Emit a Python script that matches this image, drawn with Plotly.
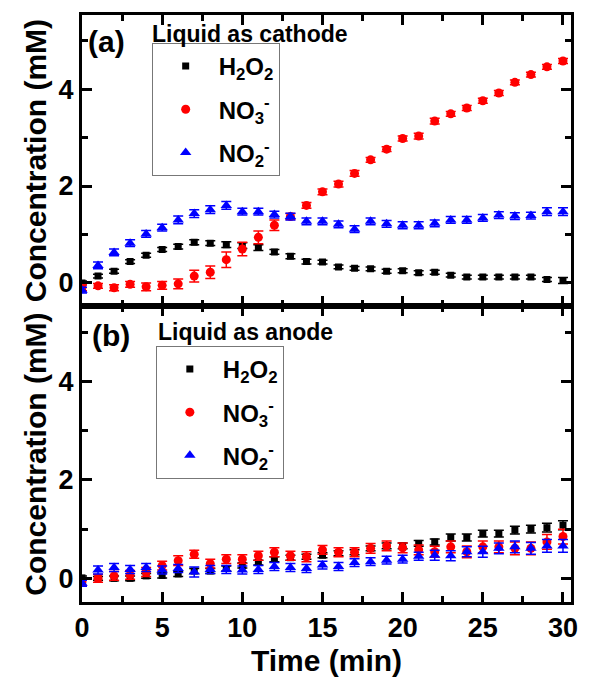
import plotly.graph_objects as go

# Time axis (min)
time_min = list(range(31))

# (a) liquid as cathode -- concentrations (mM) and error bars
cath_h2o2 = [0.00, 0.14, 0.24, 0.44, 0.57, 0.69, 0.75, 0.84, 0.82, 0.79, 0.77,
             0.73, 0.64, 0.55, 0.44, 0.43, 0.33, 0.30, 0.29, 0.24, 0.25, 0.21,
             0.22, 0.16, 0.12, 0.12, 0.12, 0.12, 0.12, 0.07, 0.05]
cath_h2o2_err = [0.04, 0.04, 0.04, 0.04, 0.04, 0.04, 0.05, 0.05, 0.05, 0.06, 0.06,
                 0.06, 0.05, 0.05, 0.05, 0.04, 0.04, 0.04, 0.04, 0.04, 0.04, 0.04,
                 0.04, 0.04, 0.04, 0.04, 0.04, 0.04, 0.04, 0.04, 0.06]
cath_no3 = [-0.10, -0.06, -0.10, -0.03, -0.08, -0.05, -0.02, 0.14, 0.22, 0.48, 0.70,
            0.94, 1.19, 1.37, 1.60, 1.88, 2.04, 2.26, 2.54, 2.76, 2.98, 3.03,
            3.34, 3.49, 3.61, 3.76, 3.92, 4.14, 4.30, 4.46, 4.58]
cath_no3_err = [0.06, 0.05, 0.06, 0.06, 0.08, 0.08, 0.10, 0.12, 0.13, 0.16, 0.14,
                0.13, 0.11, 0.06, 0.06, 0.06, 0.06, 0.06, 0.05, 0.05, 0.05, 0.06,
                0.06, 0.05, 0.05, 0.05, 0.05, 0.05, 0.05, 0.05, 0.05]
cath_no2 = [-0.15, 0.36, 0.63, 0.82, 1.01, 1.14, 1.30, 1.43, 1.51, 1.60, 1.47,
            1.47, 1.41, 1.37, 1.27, 1.27, 1.21, 1.11, 1.27, 1.22, 1.19, 1.19,
            1.23, 1.30, 1.30, 1.34, 1.40, 1.38, 1.39, 1.47, 1.47]
cath_no2_err = [0.06, 0.07, 0.07, 0.07, 0.07, 0.07, 0.08, 0.08, 0.08, 0.08, 0.07,
                0.07, 0.07, 0.07, 0.07, 0.07, 0.07, 0.07, 0.07, 0.07, 0.07, 0.07,
                0.07, 0.07, 0.07, 0.07, 0.07, 0.07, 0.07, 0.08, 0.08]

# (b) liquid as anode -- concentrations (mM) and error bars
anod_h2o2 = [0.01, 0.00, 0.00, 0.00, 0.05, 0.06, 0.09, 0.15, 0.15, 0.20, 0.26,
             0.32, 0.39, 0.42, 0.44, 0.47, 0.51, 0.53, 0.61, 0.66, 0.66, 0.71,
             0.74, 0.83, 0.83, 0.91, 0.91, 0.98, 1.00, 1.03, 1.08]
anod_h2o2_err = [0.04, 0.04, 0.05, 0.05, 0.05, 0.05, 0.05, 0.05, 0.05, 0.05, 0.05,
                 0.05, 0.05, 0.05, 0.05, 0.05, 0.05, 0.05, 0.05, 0.06, 0.06, 0.06,
                 0.06, 0.07, 0.07, 0.07, 0.07, 0.08, 0.08, 0.09, 0.09]
anod_no3 = [-0.07, 0.00, 0.05, 0.07, 0.13, 0.26, 0.36, 0.49, 0.30, 0.39, 0.39,
            0.46, 0.53, 0.46, 0.44, 0.58, 0.53, 0.53, 0.61, 0.66, 0.62, 0.58,
            0.54, 0.64, 0.54, 0.64, 0.64, 0.61, 0.61, 0.74, 0.85]
anod_no3_err = [0.08, 0.08, 0.09, 0.09, 0.09, 0.09, 0.10, 0.08, 0.09, 0.09, 0.09,
                0.09, 0.09, 0.09, 0.10, 0.09, 0.09, 0.09, 0.10, 0.10, 0.10, 0.10,
                0.11, 0.12, 0.12, 0.12, 0.12, 0.13, 0.13, 0.15, 0.15]
anod_no2 = [-0.10, 0.17, 0.22, 0.18, 0.22, 0.17, 0.20, 0.13, 0.18, 0.18, 0.17,
            0.18, 0.24, 0.22, 0.20, 0.27, 0.24, 0.32, 0.34, 0.37, 0.39, 0.45,
            0.47, 0.46, 0.54, 0.54, 0.61, 0.64, 0.61, 0.66, 0.66]
anod_no2_err = [0.06, 0.08, 0.08, 0.08, 0.08, 0.08, 0.08, 0.10, 0.08, 0.08, 0.08,
                0.08, 0.08, 0.08, 0.08, 0.08, 0.08, 0.08, 0.08, 0.08, 0.08, 0.08,
                0.10, 0.10, 0.10, 0.11, 0.11, 0.12, 0.12, 0.13, 0.13]

species_names = ["H<sub>2</sub>O<sub>2</sub>",
                 "NO<sub>3</sub><sup>-</sup>",
                 "NO<sub>2</sub><sup>-</sup>"]
species_colors = ["#000000", "#ff0000", "#0000ff"]
species_symbols = ["square", "circle", "triangle-up"]
species_sizes = [7, 9, 10]

FONT = "Liberation Sans, Arial, sans-serif"

fig = go.Figure()

panels = [
    ("x2", "y2", "legend", [cath_h2o2, cath_no3, cath_no2],
     [cath_h2o2_err, cath_no3_err, cath_no2_err]),
    ("x", "y", "legend2", [anod_h2o2, anod_no3, anod_no2],
     [anod_h2o2_err, anod_no3_err, anod_no2_err]),
]

for xa, ya, leg, series, errs in panels:
    for i in range(3):
        fig.add_trace(go.Scatter(
            x=time_min, y=series[i], xaxis=xa, yaxis=ya,
            mode="markers", name=species_names[i],
            legend=leg, legendgroup=f"{leg}_{i}",
            marker=dict(symbol=species_symbols[i], size=species_sizes[i],
                        color=species_colors[i]),
            error_y=dict(type="data", array=errs[i], visible=True,
                         color=species_colors[i], thickness=1.5, width=5),
        ))

axis_common = dict(
    showline=True, linecolor="black", linewidth=3, mirror="ticks",
    ticks="inside", ticklen=10, tickwidth=2.5, tickcolor="black",
    showgrid=False, zeroline=False,
    tickfont=dict(family=FONT, size=27, color="black", weight="bold"),
)

x_common = dict(axis_common, range=[0, 30.5], dtick=5, tick0=0,
                minor=dict(ticks="inside", ticklen=6, dtick=2.5, tick0=0,
                           tickwidth=2.5, tickcolor="black"))
y_common = dict(axis_common, range=[-0.48, 5.53], dtick=2, tick0=0,
                minor=dict(ticks="inside", ticklen=6, dtick=1, tick0=0,
                           tickwidth=2.5, tickcolor="black"))

title_font = dict(family=FONT, size=30, color="black", weight="bold")
legend_font = dict(family=FONT, size=24, color="black", weight="bold")

fig.update_layout(
    width=590, height=684,
    margin=dict(l=82, r=12, t=14, b=81),
    paper_bgcolor="white", plot_bgcolor="white",
    showlegend=True,
    xaxis=dict(x_common, anchor="y",
               title=dict(text="Time (min)", font=title_font, standoff=8)),
    xaxis2=dict(x_common, anchor="y2", matches="x", showticklabels=False),
    yaxis=dict(y_common, anchor="x", domain=[0, 0.504],
               title=dict(text="Concentration (mM)", font=title_font, standoff=4)),
    yaxis2=dict(y_common, anchor="x2", domain=[0.504, 1],
                title=dict(text="Concentration (mM)", font=title_font, standoff=4)),
    legend=dict(x=0.1425, y=(603 - 42) / 589, xanchor="left", yanchor="top",
                bgcolor="rgba(255,255,255,0)", bordercolor="#777", borderwidth=1,
                font=legend_font, itemwidth=56, tracegroupgap=9),
    legend2=dict(x=0.151, y=(603 - 346) / 589, xanchor="left", yanchor="top",
                 bgcolor="rgba(255,255,255,0)", bordercolor="#777", borderwidth=1,
                 font=legend_font, itemwidth=56, tracegroupgap=9),
)

label_font_big = dict(family=FONT, size=30, color="black", weight="bold")
label_font = dict(family=FONT, size=23, color="black", weight="bold")

fig.add_annotation(text="(a)", xref="paper", yref="paper", x=0.008, y=(603 - 41) / 589,
                   xanchor="left", yanchor="middle", showarrow=False, font=label_font_big)
fig.add_annotation(text="Liquid as cathode", xref="paper", yref="paper",
                   x=(151 - 82) / 496, y=(603 - 33) / 589,
                   xanchor="left", yanchor="middle", showarrow=False, font=label_font)
fig.add_annotation(text="(b)", xref="paper", yref="paper", x=0.016, y=(603 - 336) / 589,
                   xanchor="left", yanchor="middle", showarrow=False, font=label_font_big)
fig.add_annotation(text="Liquid as anode", xref="paper", yref="paper",
                   x=(157 - 82) / 496, y=(603 - 332) / 589,
                   xanchor="left", yanchor="middle", showarrow=False, font=label_font)

fig.write_html("out.html")
